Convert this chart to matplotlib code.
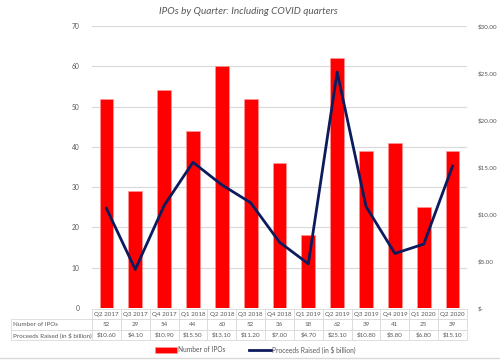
import matplotlib
matplotlib.use("Agg")
import matplotlib.pyplot as plt
from matplotlib.lines import Line2D
import numpy as np

plt.rcParams["font.family"] = ["Lato", "DejaVu Sans"]

quarters = ["Q2 2017", "Q3 2017", "Q4 2017", "Q1 2018", "Q2 2018", "Q3 2018", "Q4 2018",
            "Q1 2019", "Q2 2019", "Q3 2019", "Q4 2019", "Q1 2020", "Q2 2020"]
num_ipos = [52, 29, 54, 44, 60, 52, 36, 18, 62, 39, 41, 25, 39]
proceeds = [10.6, 4.1, 10.9, 15.5, 13.1, 11.2, 7.0, 4.7, 25.1, 10.8, 5.8, 6.8, 15.1]

RED = "#ff0000"
NAVY = "#0c1b5e"
GRID = "#d9d9d9"
TXT = "#595959"

fig = plt.figure(figsize=(5, 3.61), dpi=100)
ax = fig.add_axes([0.184, 0.1468, 0.75, 0.7812])
x = np.arange(len(quarters))

ax.bar(x, num_ipos, width=0.48, color=RED, edgecolor="#ff9a9a", linewidth=0.4,
       label="Number of IPOs", zorder=2)
ax.set_xlim(-0.5, len(quarters) - 0.5)
ax.set_ylim(0, 70)
ax.set_yticks(range(0, 71, 10))
ax.grid(True, axis="y", color=GRID, linewidth=0.8, zorder=0)
ax.set_xticks([])
ax.tick_params(axis="y", length=0, pad=9, labelsize=4.8, labelcolor=TXT)
for s in ax.spines.values():
    s.set_visible(False)

ax2 = ax.twinx()
ax2.plot(x, proceeds, color=NAVY, linewidth=2, label="Proceeds Raised (in $ billion)")
ax2.set_ylim(0, 30)
ax2.set_yticks(range(0, 31, 5))
ax2.set_yticklabels(["$-"] + [f"${v:.2f}" for v in range(5, 31, 5)])
ax2.tick_params(axis="y", length=0, pad=8, labelsize=4.5, labelcolor=TXT)
for s in ax2.spines.values():
    s.set_visible(False)

# Data table under the plot
cell_text = [[""] + quarters,
             ["Number of IPOs"] + [str(v) for v in num_ipos],
             ["Proceeds Raised (in $ billion)"] + [f"${v:.2f}" for v in proceeds]]
first_w = 81 / 456
col_w = [first_w] + [(1 - first_w) / len(quarters)] * len(quarters)
tbl = ax.table(cellText=cell_text, colWidths=col_w, cellLoc="center",
               bbox=[-0.216, -0.1135, 1.216, 0.11])
tbl.auto_set_font_size(False)
tbl.set_fontsize(4.5)
for (r, c), cell in tbl.get_celld().items():
    cell.set_edgecolor(GRID)
    cell.set_linewidth(0.6)
    cell.get_text().set_color(TXT)
    if c == 0:
        cell.set_text_props(ha="left")
        cell.PAD = 0.03
    if r == 0 and c == 0:
        cell.visible_edges = ""

fig.text(0.497, 0.968, "IPOs by Quarter: Including COVID quarters", ha="center", va="center",
         fontsize=7.2, style="italic", color=TXT)

h1, l1 = ax.get_legend_handles_labels()
h2, l2 = ax2.get_legend_handles_labels()
fig.legend(h1 + h2, l1 + l2, loc="center", bbox_to_anchor=(0.51, 0.031), ncol=2,
           frameon=False, fontsize=4.8, handlelength=3.4, handleheight=1.1,
           handletextpad=0.1, columnspacing=3.5, labelcolor=TXT)

fig.add_artist(Line2D([0, 1], [0.008, 0.008], color=GRID, linewidth=1))

fig.savefig("out.png", dpi=100)
